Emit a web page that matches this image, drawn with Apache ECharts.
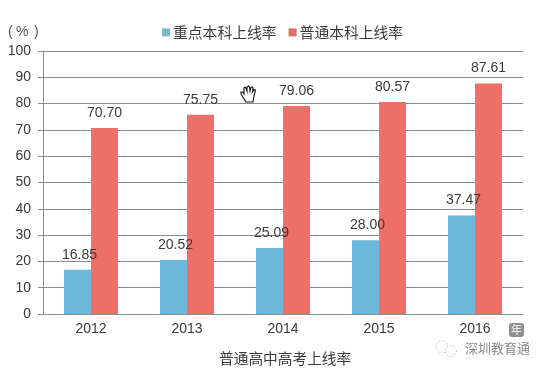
<!DOCTYPE html>
<html>
<head>
<meta charset="utf-8">
<style>
html,body{margin:0;padding:0;background:#fff;}
#main{width:546px;height:373px;}
</style>
<script src="https://cdn.jsdelivr.net/npm/echarts@6/dist/echarts.min.js"></script>
</head>
<body>
<div id="main"></div>
<script>
var years = ['2012', '2013', '2014', '2015', '2016'];
var keyRate = [16.85, 20.52, 25.09, 28.00, 37.47];
var normalRate = [70.70, 75.75, 79.06, 80.57, 87.61];
var yTicks = [0, 10, 20, 30, 40, 50, 60, 70, 80, 90, 100];

var CJK = '"Noto Sans CJK SC"';
var NUM = '"Liberation Sans"';
var GREY = '#8c8c8c';

var myChart = echarts.init(document.getElementById('main'));

function valueLabel(dx) {
    return {
        show: true,
        position: 'top',
        distance: 8,
        offset: [dx, 0],
        fontFamily: NUM,
        fontSize: 14,
        color: '#3a3a3a',
        formatter: function (p) { return p.value.toFixed(2); }
    };
}

var option = {
    backgroundColor: '#fff',
    animation: false,
    title: {
        text: '普通高中高考上线率',
        left: 214,
        top: 346,
        textStyle: { fontFamily: CJK, fontSize: 14.7, fontWeight: 'normal', color: '#3a3a3a' }
    },
    legend: {
        left: 157,
        top: 20,
        itemWidth: 8,
        itemHeight: 8,
        itemGap: 12,
        icon: 'rect',
        textStyle: { fontFamily: CJK, fontSize: 14.8, color: '#3a3a3a', padding: [0, 0, 0, -2] },
        data: [
            { name: '重点本科上线率', itemStyle: { color: '#7db6cb' } },
            { name: '普通本科上线率', itemStyle: { color: '#dd7269' } }
        ]
    },
    grid: { left: 43, right: 23, top: 51, bottom: 59 },
    xAxis: {
        type: 'category',
        data: years,
        axisLine: { lineStyle: { color: GREY } },
        axisTick: { show: false },
        axisLabel: { fontFamily: NUM, fontSize: 14, color: '#3a3a3a', margin: 8 }
    },
    yAxis: {
        type: 'value',
        min: yTicks[0],
        max: yTicks[yTicks.length - 1],
        interval: 10,
        axisLine: { show: true, lineStyle: { color: GREY } },
        axisTick: { show: true, length: 5, lineStyle: { color: GREY } },
        axisLabel: { fontFamily: NUM, fontSize: 14, color: '#3a3a3a', margin: 12 },
        splitLine: { lineStyle: { color: GREY } }
    },
    series: [{
        name: '重点本科上线率',
        type: 'bar',
        barWidth: 27,
        barGap: 0,
        itemStyle: { color: '#6cb8da' },
        label: valueLabel(2),
        data: keyRate
    }, {
        name: '普通本科上线率',
        type: 'bar',
        barWidth: 27,
        itemStyle: { color: '#ec7068' },
        label: valueLabel(0),
        data: normalRate
    }],
    graphic: [
        // 左上角单位
        { type: 'text', x: 8, y: 25, style: { text: '(', fontFamily: NUM, fontSize: 14, fill: '#555' } },
        { type: 'text', x: 16, y: 25, style: { text: '%', fontFamily: NUM, fontSize: 14, fill: '#555' } },
        { type: 'text', x: 34, y: 25, style: { text: ')', fontFamily: NUM, fontSize: 14, fill: '#555' } },
        // 年 标记
        { type: 'rect', shape: { x: 509, y: 323, width: 15, height: 14, r: 3 }, style: { fill: '#8f8f8f' } },
        { type: 'text', x: 516.5, y: 330, style: { text: '年', fontFamily: CJK, fontSize: 11, fill: '#fff', align: 'center', verticalAlign: 'middle' } },
        // 水印
        { type: 'text', x: 465, y: 342, style: { text: '深圳教育通', fontFamily: CJK, fontSize: 13, fill: '#888' } },
        { type: 'circle', shape: { cx: 442, cy: 347, r: 6 }, style: { fill: 'none', stroke: '#aaa', lineWidth: 1, lineDash: [1, 2] } },
        { type: 'circle', shape: { cx: 451, cy: 351, r: 5.5 }, style: { fill: '#fff', stroke: '#aaa', lineWidth: 1, lineDash: [1, 2] } },
        // 鼠标手型
        {
            type: 'polygon',
            x: 240, y: 85,
            shape: {
                points: [[6, 17], [1, 9], [1, 7], [2.5, 7], [4, 9], [4, 3], [5, 2], [6, 3], [7, 6], [7, 2], [8.5, 1], [9.5, 2], [10, 6], [11, 2.5], [12.5, 2], [13, 3], [12.5, 7], [14, 4.5], [15.5, 5], [14, 11], [13, 17]]
            },
            style: { fill: '#fff', stroke: '#111', lineWidth: 1.1 }
        }
    ]
};
myChart.setOption(option);
</script>
</body>
</html>
